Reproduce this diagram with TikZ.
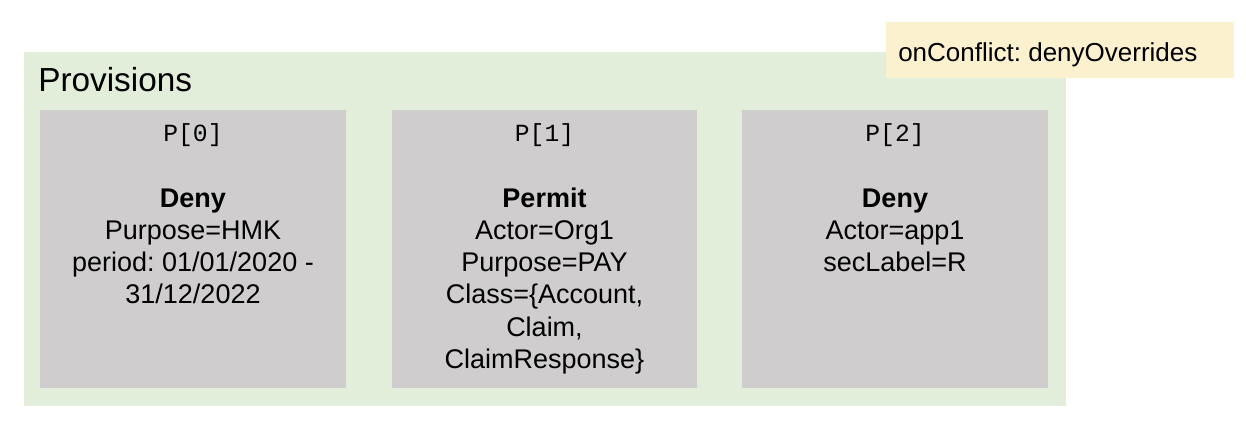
\documentclass[tikz,border=0pt]{standalone}
\usepackage{fontspec}
\setmainfont{Liberation Sans}
\setmonofont{Liberation Mono}
\frenchspacing
\definecolor{provgreen}{RGB}{226,237,218}
\definecolor{boxgrey}{RGB}{207,205,206}
\definecolor{noteyellow}{RGB}{252,241,207}
\begin{document}
\begin{tikzpicture}[x=0.75pt,y=-0.75pt,
  provbox/.style={fill=boxgrey,draw=none},
  idlabel/.style={anchor=base,inner sep=0pt,font=\ttfamily\fontsize{18.5}{22}\selectfont},
  bodytext/.style={anchor=base,inner sep=0pt,align=center,font=\frenchspacing\fontsize{20.25}{24.2}\selectfont}]
\useasboundingbox (0,0) rectangle (1246,430);
\fill[white] (0,0) rectangle (1246,430);
% container
\fill[provgreen] (24,52) rectangle (1066,406);
\node[anchor=base west,inner sep=0pt,font=\fontsize{25}{30}\selectfont] (title) at (38,91) {Provisions};
% note
\node[fill=noteyellow,minimum width=348*0.75pt,minimum height=56*0.75pt,anchor=north west,inner sep=0pt] (note) at (886,22) {};
\node[anchor=base west,inner sep=0pt,font=\frenchspacing\fontsize{19.5}{23}\selectfont] (notetext) at (898,61) {onConflict: denyOverrides};
% provision boxes
\fill[provbox] (40,110) rectangle (346,388);
\fill[provbox] (392,110) rectangle (697,388);
\fill[provbox] (742,110) rectangle (1048,388);
\node[idlabel] (p0) at (193,141) {P[0]};
\node[idlabel] (p1) at (544.5,141) {P[1]};
\node[idlabel] (p2) at (895,141) {P[2]};
% body texts, anchored at the baseline of their last line
\node[bodytext] (b0) at (193,303.9) {\textbf{Deny}\\Purpose=HMK\\period: 01/01/2020 -\\31/12/2022};
\node[bodytext] (b1) at (544.5,368.5) {\textbf{Permit}\\Actor=Org1\\Purpose=PAY\\Class=\{Account,\\Claim,\\ClaimResponse\}};
\node[bodytext] (b2) at (895,271.6) {\textbf{Deny}\\Actor=app1\\secLabel=R};
\end{tikzpicture}
\end{document}
